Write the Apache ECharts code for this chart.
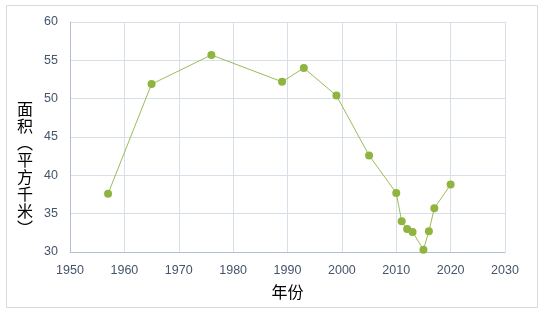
<!DOCTYPE html>
<html><head><meta charset="utf-8">
<script src="https://cdn.jsdelivr.net/npm/echarts@6/dist/echarts.min.js"></script>
<style>html,body{margin:0;padding:0;background:#fff}#c{width:545px;height:313px}</style>
</head><body><div id="c"></div>
<script>
const years = [1957, 1965, 1976, 1989, 1993, 1999, 2005, 2010, 2011, 2012, 2013, 2015, 2016, 2017, 2020];
const areas = [37.6, 51.9, 55.7, 52.2, 54.0, 50.4, 42.6, 37.7, 34.0, 33.0, 32.6, 30.3, 32.7, 35.7, 38.8];
const xAxisName = '年份';
const yAxisName = '面积︵平方千米︶';

const chart = echarts.init(document.getElementById('c'), null, {renderer: 'canvas'});
const labelColor = '#44546a';
chart.setOption({
  animation: false,
  grid: {left: 70, right: 40, top: 22, bottom: 61},
  graphic: [
    {type: 'rect', shape: {x: 6.5, y: 5.5, width: 531, height: 302}, style: {fill: 'none', stroke: '#d9d9d9', lineWidth: 1}, silent: true},
    {type: 'text', left: 17, top: 100, style: {text: yAxisName.split('').join('\n'), font: '16px "Noto Sans CJK SC"', fill: '#000', lineHeight: 17}}
  ],
  xAxis: {
    type: 'value', min: 1950, max: 2030, interval: 10,
    name: xAxisName, nameLocation: 'middle', nameGap: 32,
    nameTextStyle: {color: '#000', fontSize: 16, fontFamily: 'Noto Sans CJK SC'},
    axisLine: {lineStyle: {color: '#b4bfcd'}},
    axisTick: {show: false},
    axisLabel: {color: labelColor, fontSize: 12.5, fontFamily: 'Liberation Sans', margin: 12, formatter: v => String(v)},
    splitLine: {show: true, lineStyle: {color: '#d8dfe9'}}
  },
  yAxis: {
    type: 'value', min: 30, max: 60, interval: 5,
    axisLine: {show: true, lineStyle: {color: '#b4bfcd'}},
    axisTick: {show: false},
    axisLabel: {color: labelColor, fontSize: 12.5, fontFamily: 'Liberation Sans', margin: 12},
    splitLine: {show: true, lineStyle: {color: '#d8dfe9'}}
  },
  series: [{
    type: 'line',
    data: years.map((y, i) => [y, areas[i]]),
    symbol: 'circle', symbolSize: 8,
    lineStyle: {color: '#9bbb59', width: 1},
    itemStyle: {color: '#8fb440'}
  }]
});
</script></body></html>
